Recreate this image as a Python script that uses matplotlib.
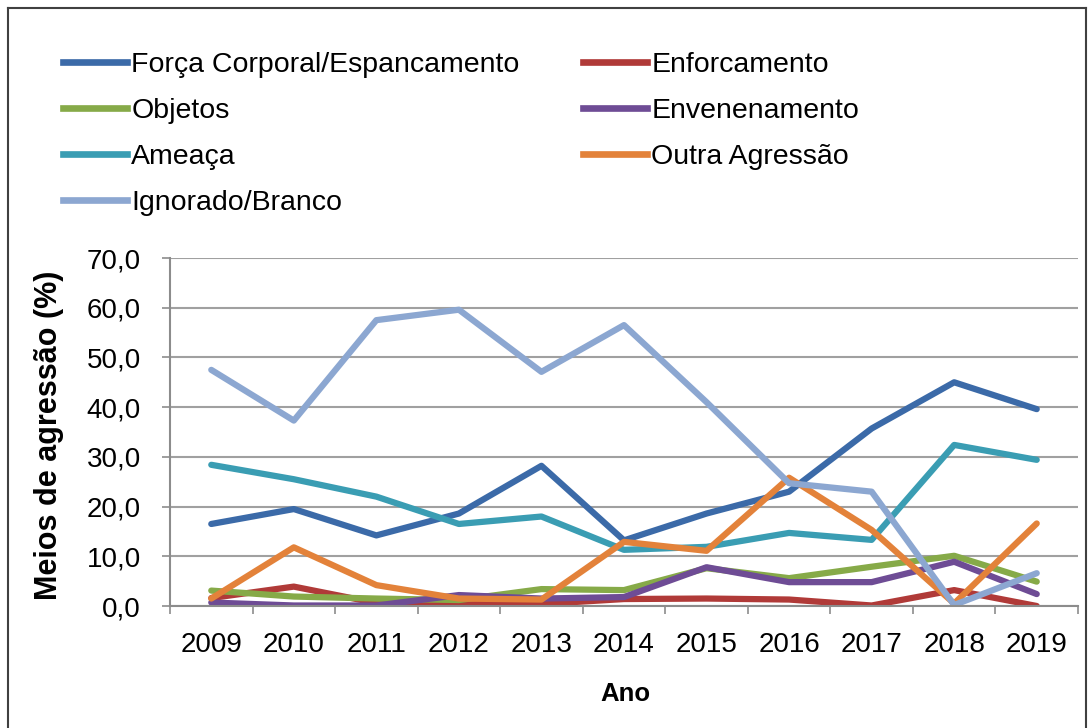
import matplotlib
matplotlib.use("Agg")
import matplotlib.pyplot as plt
from matplotlib.lines import Line2D

plt.rcParams['font.family'] = ['Liberation Sans', 'DejaVu Sans']

anos = ["2009", "2010", "2011", "2012", "2013", "2014", "2015", "2016", "2017", "2018", "2019"]

forca = [16.5, 19.5, 14.2, 18.6, 28.2, 13.2, 18.6, 23.0, 35.7, 45.0, 39.6]
enforcamento = [1.6, 3.9, 0.6, 0.4, 0.4, 1.4, 1.5, 1.3, 0.1, 3.2, 0.0]
objetos = [3.1, 1.9, 1.5, 1.2, 3.4, 3.2, 7.6, 5.6, 7.9, 10.1, 4.9]
envenenamento = [0.7, 0.1, 0.1, 2.2, 1.5, 1.8, 7.8, 4.8, 4.8, 8.9, 2.4]
ameaca = [28.4, 25.5, 22.0, 16.5, 18.0, 11.3, 11.9, 14.7, 13.3, 32.4, 29.4]
outra = [1.5, 11.8, 4.2, 1.5, 1.3, 12.9, 11.1, 25.8, 15.3, 0.5, 16.6]
ignorado = [47.5, 37.3, 57.5, 59.6, 47.1, 56.5, 41.0, 24.7, 23.0, 0.2, 6.6]

series = [
    ("Força Corporal/Espancamento", forca, "#3B6AA8"),
    ("Enforcamento", enforcamento, "#B03A38"),
    ("Objetos", objetos, "#86AA48"),
    ("Envenenamento", envenenamento, "#6E4C95"),
    ("Ameaça", ameaca, "#3A9DB3"),
    ("Outra Agressão", outra, "#E3823A"),
    ("Ignorado/Branco", ignorado, "#8CA7D1"),
]

W, H = 1091, 728
fig = plt.figure(figsize=(W / 100, H / 100), dpi=100)
ax = fig.add_axes([170 / W, 1 - 606 / H, 908 / W, 348 / H])

x = list(range(len(anos)))
for nome, vals, cor in series:
    ax.plot(x, vals, color=cor, linewidth=4.5, solid_joinstyle="round",
            solid_capstyle="round", label=nome)

ax.set_xlim(-0.5, len(anos) - 0.5)
ax.set_ylim(0, 70)
ax.set_yticks(range(0, 71, 10))
ax.set_yticklabels([f"{v},0" for v in range(0, 71, 10)], fontsize=20)
ax.set_xticks(x)
ax.set_xticklabels(anos, fontsize=20)
ax.set_xticks([i + 0.5 for i in range(-1, len(anos))], minor=True)
ax.tick_params(axis="x", which="major", length=0, pad=19)
ax.tick_params(axis="x", which="minor", length=6, color="#8C8C8C", width=1.2)
ax.tick_params(axis="y", length=6, color="#8C8C8C", width=1.2, pad=15)
ax.grid(True, axis="y", color="#A0A0A0", linewidth=1.5)
ax.set_axisbelow(True)
for s in ["top", "right"]:
    ax.spines[s].set_visible(False)
for s in ["left", "bottom"]:
    ax.spines[s].set_color("#8C8C8C")
    ax.spines[s].set_linewidth(1.5)

ax.set_ylabel("Meios de agressão (%)", fontsize=22, fontweight="bold")
ax.yaxis.set_label_coords((64 - 170) / 908, 0.49)
ax.set_xlabel("Ano", fontsize=18.5, fontweight="bold")
ax.xaxis.set_label_coords((625 - 170) / 908, (606 - 682) / 348)

# legenda em duas colunas posicionadas separadamente
handles = [Line2D([0], [0], color=c, linewidth=4.8) for _, _, c in series]
labels = [n for n, _, _ in series]
leg_kw = dict(loc="upper left", frameon=False, fontsize=20.5, handlelength=2.25,
              handletextpad=0.15, labelspacing=0.7, borderpad=0, borderaxespad=0)
col1 = [0, 2, 4, 6]
col2 = [1, 3, 5]
leg1 = fig.legend([handles[i] for i in col1], [labels[i] for i in col1],
                  bbox_to_anchor=(63 / W, 1 - 52 / H), **leg_kw)
leg2 = fig.legend([handles[i] for i in col2], [labels[i] for i in col2],
                  bbox_to_anchor=(583 / W, 1 - 52 / H), **leg_kw)

# moldura externa
fig.add_artist(Line2D([8 / W, 8 / W], [0, 1 - 8 / H], color="#404040", linewidth=1.5))
fig.add_artist(Line2D([8 / W, 1086 / W], [1 - 8 / H, 1 - 8 / H], color="#404040", linewidth=1.5))
fig.add_artist(Line2D([1086 / W, 1086 / W], [0, 1 - 8 / H], color="#404040", linewidth=1.5))

fig.savefig("out.png", dpi=100)
